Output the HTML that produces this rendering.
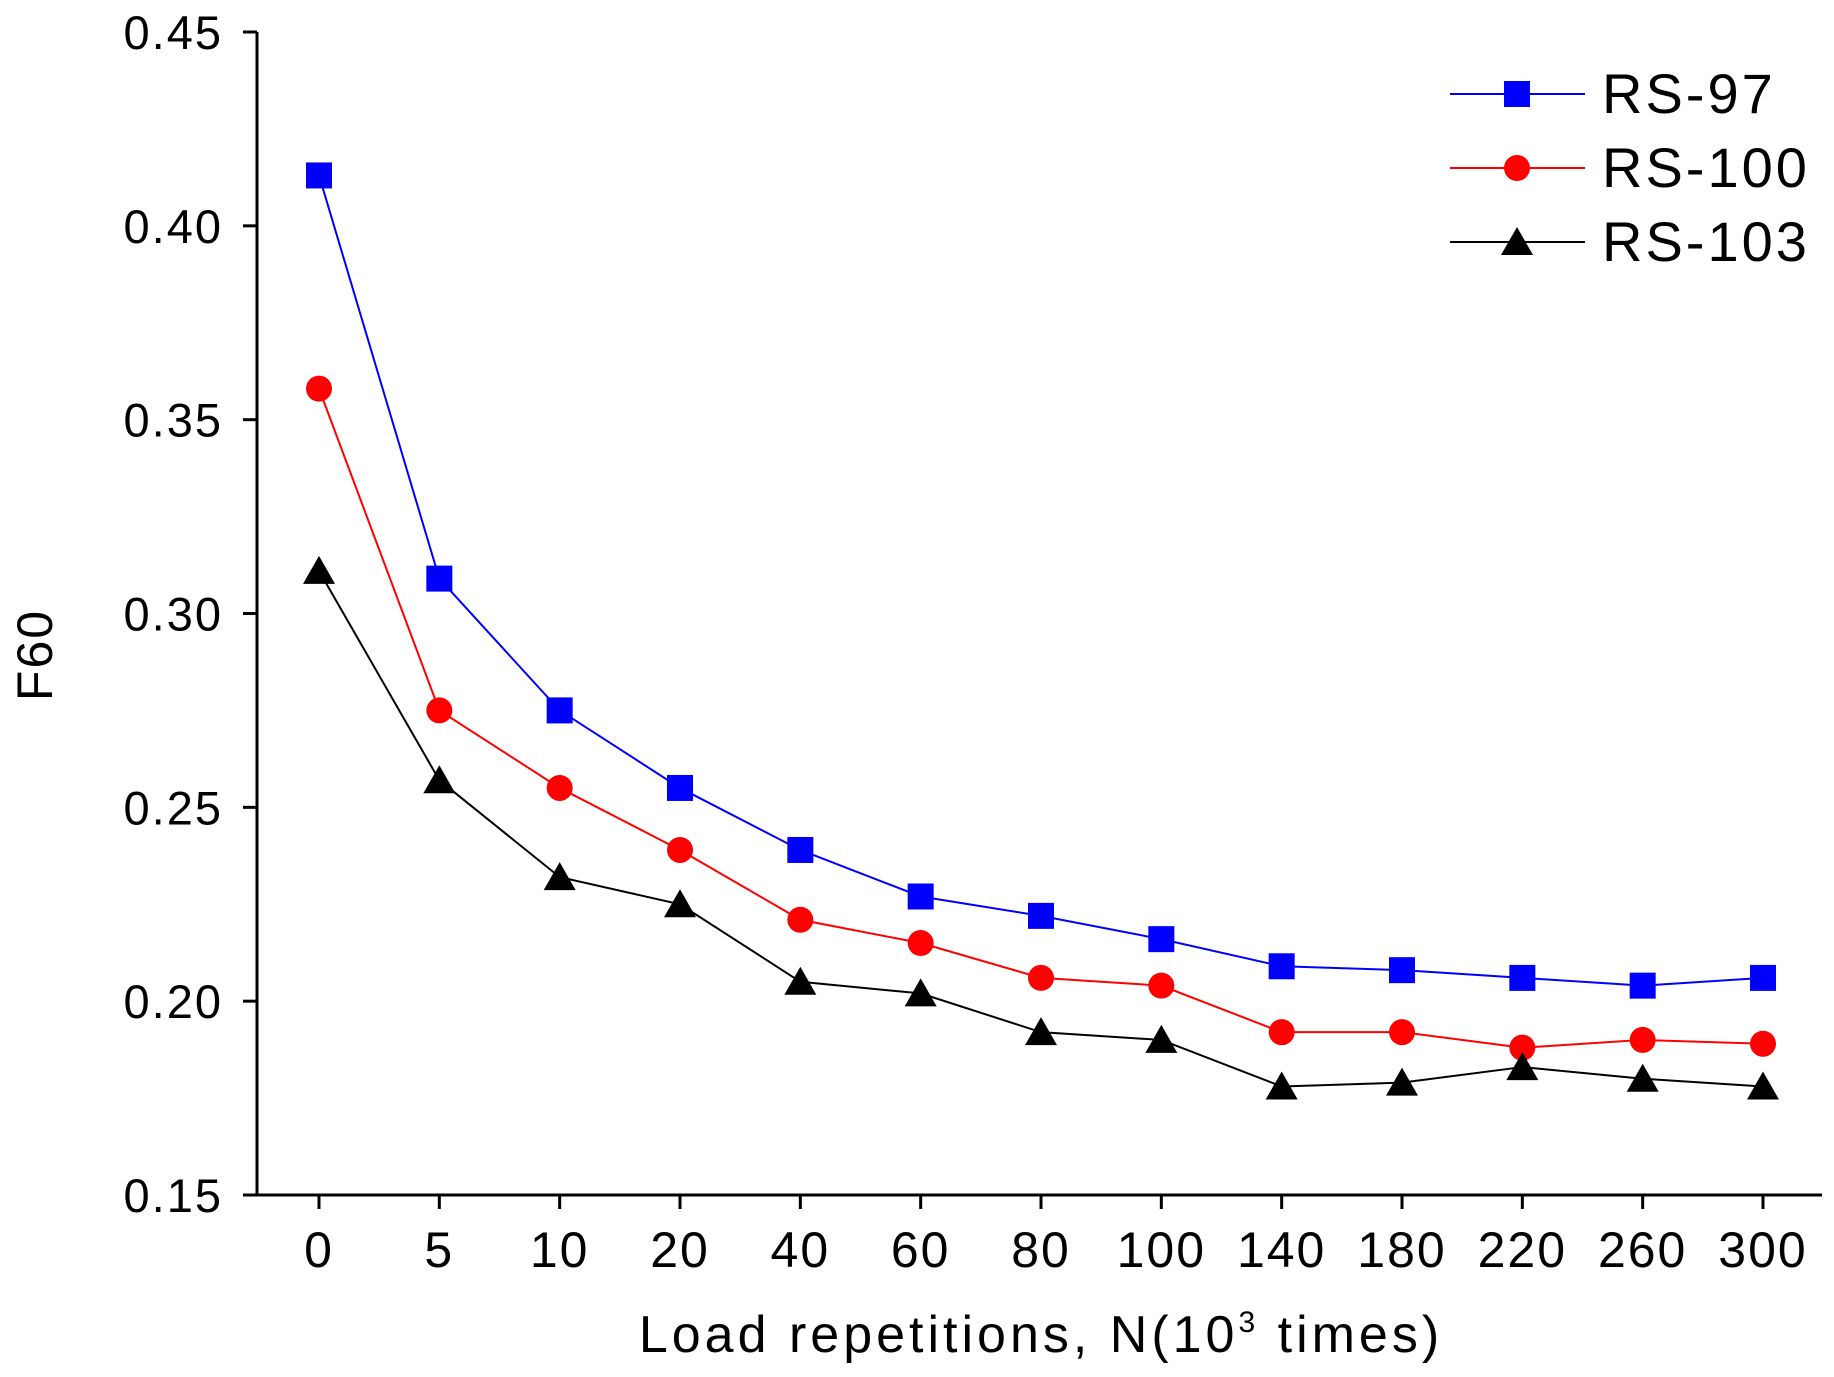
<!DOCTYPE html>
<html><head><meta charset="utf-8"><style>
html,body{margin:0;padding:0;background:#fff;}
svg{display:block;font-family:"Liberation Sans",Arial,sans-serif;}
</style></head><body>
<svg id="chart" width="1834" height="1377" viewBox="0 0 1834 1377"></svg>
<script>
const categories=["0","5","10","20","40","60","80","100","140","180","220","260","300"];
const rs97=[0.413,0.309,0.275,0.255,0.239,0.227,0.222,0.216,0.209,0.208,0.206,0.204,0.206];
const rs100=[0.358,0.275,0.255,0.239,0.221,0.215,0.206,0.204,0.192,0.192,0.188,0.190,0.189];
const rs103=[0.311,0.257,0.232,0.225,0.205,0.202,0.192,0.190,0.178,0.179,0.183,0.180,0.178];
const yTicks=[0.15,0.20,0.25,0.30,0.35,0.40,0.45];
const seriesNames=["RS-97","RS-100","RS-103"];

const NS="http://www.w3.org/2000/svg";
const svg=document.getElementById('chart');
const L=257,R=1822,T=32,B=1195,X0=319,X1=1763,YMIN=0.15,YMAX=0.45;
const xs=i=>X0+i*(X1-X0)/(categories.length-1);
const ys=v=>B-(v-YMIN)/(YMAX-YMIN)*(B-T);
function mk(tag,attrs,parent){const e=document.createElementNS(NS,tag);for(const k in attrs)e.setAttribute(k,attrs[k]);(parent||svg).appendChild(e);return e;}

const axes=mk('g',{});


mk('line',{x1:L,y1:T,x2:L,y2:B,stroke:'#000','stroke-width':3},axes);
mk('line',{x1:L,y1:B,x2:R,y2:B,stroke:'#000','stroke-width':3},axes);
yTicks.forEach(v=>{
  mk('line',{x1:L-14,y1:ys(v),x2:L,y2:ys(v),stroke:'#000','stroke-width':3},axes);
  const t=mk('text',{x:L-34,y:ys(v)+17,'text-anchor':'end','font-size':47,'letter-spacing':2},axes);
  t.textContent=v.toFixed(2);
  
  
});
categories.forEach((c,i)=>{
  mk('line',{x1:xs(i),y1:B,x2:xs(i),y2:B+14,stroke:'#000','stroke-width':3},axes);
  const t=mk('text',{x:xs(i),y:B+72,'text-anchor':'middle','font-size':50,'letter-spacing':2},axes);
  t.textContent=c;
  
  
});
const yt=mk('text',{x:0,y:0,'text-anchor':'middle','font-size':50,'letter-spacing':2,transform:'translate(52,655) rotate(-90)'});
yt.textContent='F60';


const xt=mk('text',{x:1041,y:1352,'text-anchor':'middle','font-size':52,'letter-spacing':4});
xt.innerHTML='Load repetitions, N(10<tspan dy="-20" font-size="30">3</tspan><tspan dy="20"> times)</tspan>';



function marker(kind,x,y,color,g){
  if(kind==='sq')mk('rect',{x:x-13,y:y-13,width:26,height:26,fill:color},g);
  else if(kind==='ci')mk('circle',{cx:x,cy:y,r:13,fill:color},g);
  else mk('polygon',{points:`${x},${y-15} ${x-16},${y+13} ${x+16},${y+13}`,fill:color},g);
}
const series=[[rs97,'#0000ff','sq'],[rs100,'#ff0000','ci'],[rs103,'#000','tr']];
series.forEach(([vals,color,kind],si)=>{
  const g=mk('g',{});
  
  
  mk('polyline',{points:vals.map((v,i)=>xs(i)+','+ys(v)).join(' '),fill:'none',stroke:color,'stroke-width':2},g);
  vals.forEach((v,i)=>marker(kind,xs(i),ys(v),color,g));
  const ly=94+si*74;
  const lg=mk('g',{});
  
  
  mk('line',{x1:1450,y1:ly,x2:1585,y2:ly,stroke:color,'stroke-width':2},lg);
  marker(kind,1517,ly,color,lg);
  const t=mk('text',{x:1602,y:ly+19,'font-size':56,'letter-spacing':3},lg);
  t.textContent=seriesNames[si];
});
</script>
</body></html>
